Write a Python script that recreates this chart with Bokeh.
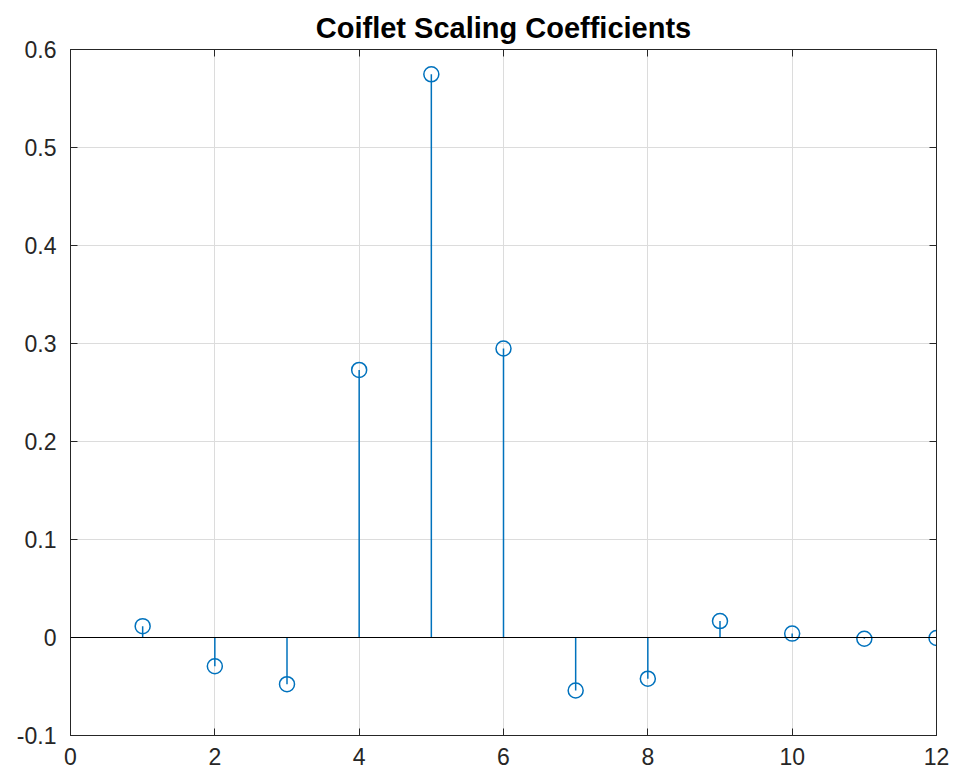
from bokeh.plotting import figure
from bokeh.models import Range1d, FixedTicker, LinearAxis, Span, ColumnDataSource, CustomLabelingPolicy
from bokeh.embed import file_html
from bokeh.resources import INLINE

# data: coif2 scaling coefficients
n = [1, 2, 3, 4, 5, 6, 7, 8, 9, 10, 11, 12]
coef = [0.011588, -0.029320, -0.047640, 0.273021, 0.574682, 0.294867,
        -0.054086, -0.042026, 0.016744, 0.003968, -0.001289, -0.000510]
base = [0.0] * len(n)
x_ticks = [0, 2, 4, 6, 8, 10, 12]
x_labels = ["0", "2", "4", "6", "8", "10", "12"]
y_ticks = [-0.1, 0, 0.1, 0.2, 0.3, 0.4, 0.5, 0.6]
y_labels = ["-0.1", "0", "0.1", "0.2", "0.3", "0.4", "0.5", "0.6"]
title_text = "Coiflet Scaling Coefficients"

FONT = "Liberation Sans"
TXT = "#262626"
BLUE = "#0072BD"

p = figure(width=950, height=776, output_backend="svg", toolbar_location=None,
           x_range=Range1d(0, 12), y_range=Range1d(-0.1, 0.6),
           min_border_left=70, min_border_right=14, min_border_top=49, min_border_bottom=41)

p.title.text = title_text
p.title.align = "center"
p.title.text_font = FONT
p.title.text_font_size = "29px"
p.title.text_font_style = "bold"
p.title.text_color = "#000000"
p.title.standoff = 11

src = ColumnDataSource(dict(x=n, y=coef, b=base))

# zero baseline
p.add_layout(Span(location=0, dimension="width", line_color="#000000", line_width=1))

p.segment(x0="x", y0="b", x1="x", y1="y", source=src, line_color=BLUE, line_width=1.5)
p.scatter(x="x", y="y", source=src, marker="circle", size=15, fill_color=None,
          line_color=BLUE, line_width=1.5)

for ax, ticks, labels in ((p.xaxis[0], x_ticks, x_labels), (p.yaxis[0], y_ticks, y_labels)):
    ax.ticker = FixedTicker(ticks=ticks)
    ax.major_label_overrides = {t: l for t, l in zip(ticks, labels)}
    ax.major_label_text_font = FONT
    ax.major_label_text_font_size = "23px"
    ax.major_label_text_color = TXT
    ax.axis_line_color = TXT
    ax.major_tick_in = 7
    ax.major_tick_out = 0
    ax.major_tick_line_color = TXT
    ax.minor_tick_line_color = None
p.xaxis[0].major_label_standoff = 12
p.yaxis[0].major_label_standoff = 14

# mirrored tick axes (box on), no labels
for loc, ticks in (("right", y_ticks), ("above", x_ticks)):
    a = LinearAxis(ticker=FixedTicker(ticks=ticks),
                   major_label_policy=CustomLabelingPolicy(code="for (const i of indices) { if (false) yield i }"),
                   major_label_text_font_size="0px",
                   major_tick_in=7, major_tick_out=0, major_tick_line_color=TXT,
                   minor_tick_line_color=None, axis_line_color=TXT, major_label_standoff=0)
    p.add_layout(a, loc)

p.xgrid.ticker = FixedTicker(ticks=x_ticks)
p.ygrid.ticker = FixedTicker(ticks=y_ticks)
p.grid.grid_line_color = "#DCDCDC"
p.outline_line_color = TXT
p.background_fill_color = "white"
p.border_fill_color = "white"

open("out.html", "w").write(file_html(p, INLINE))
